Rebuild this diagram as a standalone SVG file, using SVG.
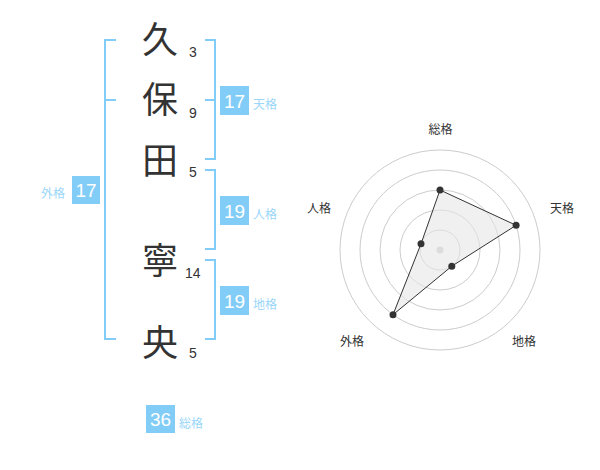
<svg xmlns="http://www.w3.org/2000/svg" width="600" height="470" viewBox="0 0 600 470">
<style>
.ch{font-family:"Noto Sans CJK JP","Noto Sans CJK SC",sans-serif;font-size:36px;fill:#333;text-anchor:middle}
.num{font-family:"Liberation Sans",Arial,sans-serif;font-size:14px;fill:#333}
.br{fill:none;stroke:#82cdf7;stroke-width:2}
.box{fill:#82cdf7}
.bn{font-family:"Liberation Sans",Arial,sans-serif;font-size:19px;fill:#fff;text-anchor:middle}
.bl{font-family:"Noto Sans CJK JP","Noto Sans CJK SC",sans-serif;font-size:12px;fill:#9ad6f8}
.ring{fill:none;stroke:#cccccc;stroke-width:1}
.rl{font-family:"Noto Sans CJK JP","Noto Sans CJK SC",sans-serif;font-size:12px;fill:#333;text-anchor:middle}
.dot{fill:#333}
</style>
<rect width="600" height="470" fill="#fff"/>
<g id="name">
<text class="ch" x="160" y="53">久</text>
<text class="ch" x="160" y="113">保</text>
<text class="ch" x="160" y="174">田</text>
<text class="ch" x="160" y="274">寧</text>
<text class="ch" x="160" y="356">央</text>
<text class="num" x="189" y="57">3</text>
<text class="num" x="189" y="118">9</text>
<text class="num" x="189" y="177">5</text>
<text class="num" x="185" y="278">14</text>
<text class="num" x="189" y="358">5</text>
</g>
<g id="connectors">
<path class="br" d="M116,40 H105 V339 H116 M105,100 H116"/>
<path class="br" d="M205,40 H215 V159 H205 M205,100 H215"/>
<path class="br" d="M205,170 H215 V249 H205"/>
<path class="br" d="M205,260 H215 V339 H205"/>
</g>
<g id="gaikaku">
<rect class="box" x="72" y="176" width="28" height="28"/>
<text class="bn" x="86" y="197">17</text>
<text class="bl" x="41" y="198">外格</text>
</g>
<g id="tenkaku">
<rect class="box" x="220" y="86" width="29" height="29"/>
<text class="bn" x="234.5" y="108">17</text>
<text class="bl" x="253" y="109">天格</text>
</g>
<g id="jinkaku">
<rect class="box" x="220" y="196" width="29" height="29"/>
<text class="bn" x="234.5" y="218">19</text>
<text class="bl" x="253" y="219">人格</text>
</g>
<g id="chikaku">
<rect class="box" x="220" y="286" width="29" height="29"/>
<text class="bn" x="234.5" y="308">19</text>
<text class="bl" x="253" y="309">地格</text>
</g>
<g id="soukaku">
<rect class="box" x="146" y="405" width="29" height="28"/>
<text class="bn" x="160.5" y="426">36</text>
<text class="bl" x="179" y="428">総格</text>
</g>
<g id="radar">
<circle class="ring" cx="440" cy="250" r="20"/>
<circle class="ring" cx="440" cy="250" r="40"/>
<circle class="ring" cx="440" cy="250" r="60"/>
<circle class="ring" cx="440" cy="250" r="80"/>
<circle class="ring" cx="440" cy="250" r="100"/>
<circle cx="440" cy="250" r="3.5" fill="#cccccc"/>
<polygon points="440,190 516.1,225.3 451.8,266.2 393,314.7 421,243.8" fill="#e6e6e6" fill-opacity="0.6" stroke="#333" stroke-width="1"/>
<circle class="dot" cx="440" cy="190" r="3.5"/>
<circle class="dot" cx="516.1" cy="225.3" r="3.5"/>
<circle class="dot" cx="451.8" cy="266.2" r="3.5"/>
<circle class="dot" cx="393" cy="314.7" r="3.5"/>
<circle class="dot" cx="421" cy="243.8" r="3.5"/>
<text class="rl" x="440.5" y="134">総格</text>
<text class="rl" x="562" y="213">天格</text>
<text class="rl" x="319" y="213">人格</text>
<text class="rl" x="352" y="346">外格</text>
<text class="rl" x="524" y="346">地格</text>
</g>
</svg>
